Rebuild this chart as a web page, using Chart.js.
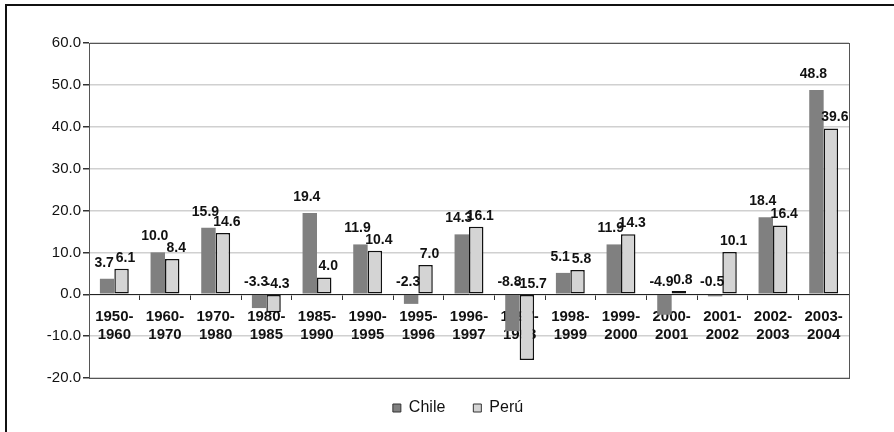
<!DOCTYPE html>
<html>
<head>
<meta charset="utf-8">
<script src="https://cdn.jsdelivr.net/npm/chart.js@4/dist/chart.umd.min.js"></script>
<style>
    html, body { margin: 0; padding: 0; background: #fff; }
    #wrap { position: relative; width: 894px; height: 432px; overflow: hidden; }
    #frame { position: absolute; left: 5px; top: 4px; width: 1000px; height: 1000px;
             border-left: 2px solid #111; border-top: 2px solid #111; }
    #chartBox { position: absolute; left: 0; top: 0; width: 894px; height: 432px; }
</style>
</head>
<body>
<div id="wrap">
    <div id="frame"></div>
    <div id="chartBox"><canvas id="growthChart"></canvas></div>
</div>
<script>
// periods on the x axis (two-line labels)
var periods = [
    ['1950-', '1960'], ['1960-', '1970'], ['1970-', '1980'], ['1980-', '1985'],
    ['1985-', '1990'], ['1990-', '1995'], ['1995-', '1996'], ['1996-', '1997'],
    ['1997-', '1998'], ['1998-', '1999'], ['1999-', '2000'], ['2000-', '2001'],
    ['2001-', '2002'], ['2002-', '2003'], ['2003-', '2004']
];
var chileValues = [3.7, 10.0, 15.9, -3.3, 19.4, 11.9, -2.3, 14.3, -8.8, 5.1, 11.9, -4.9, -0.5, 18.4, 48.8];
var peruValues = [6.1, 8.4, 14.6, -4.3, 4.0, 10.4, 7.0, 16.1, -15.7, 5.8, 14.3, 0.8, 10.1, 16.4, 39.6];
var yMin = -20;
var yMax = 60;
var yStep = 10;

Chart.defaults.font.family = '"Liberation Sans", Arial, sans-serif';
Chart.defaults.color = '#111';

// value labels above each bar (negative ones sit above the zero line)
var valueLabels = {
    id: 'valueLabels',
    afterDatasetsDraw: function(chart) {
        var ctx = chart.ctx;
        var zero = chart.scales.y.getPixelForValue(0);
        ctx.save();
        ctx.font = 'bold 14px "Liberation Sans", Arial, sans-serif';
        ctx.fillStyle = '#111';
        ctx.textAlign = 'center';
        ctx.textBaseline = 'middle';
        chart.data.datasets.forEach(function(ds, i) {
            var meta = chart.getDatasetMeta(i);
            meta.data.forEach(function(bar, j) {
                var v = ds.data[j];
                var shift = i === 0 ? -3 : 4;
                var lift;
                if (v >= 0) lift = i === 0 ? 16 : 11;
                else lift = i === 0 ? 12 : 10;
                var top = v >= 0 ? bar.y : zero;
                ctx.fillText(v.toFixed(1), bar.x + shift, top - lift);
            });
        });
        ctx.restore();
    }
};

// dark frame round the plot area
var plotFrame = {
    id: 'plotFrame',
    afterDraw: function(chart) {
        var a = chart.chartArea;
        var ctx = chart.ctx;
        ctx.save();
        ctx.strokeStyle = '#555';
        ctx.lineWidth = 1;
        ctx.strokeRect(Math.round(a.left) + 0.5, Math.round(a.top) + 0.5,
            Math.round(a.right - a.left), Math.round(a.bottom - a.top));
        ctx.restore();
    }
};

// legend sits a little left of the plot centre and a bit higher
var legendNudge = {
    id: 'legendNudge',
    afterLayout: function(chart) {
        chart.legend.left -= 22;
        chart.legend.top -= 6;
    }
};

var ctx = document.getElementById('growthChart').getContext('2d');
var growthChart = new Chart(ctx, {
    type: 'bar',
    data: {
        labels: periods,
        datasets: [{
            label: 'Chile',
            data: chileValues,
            backgroundColor: '#808080',
            borderWidth: 0
        }, {
            label: 'Perú',
            data: peruValues,
            backgroundColor: '#d4d4d4',
            borderColor: '#111',
            borderWidth: 1.5,
            borderSkipped: false
        }]
    },
    options: {
        responsive: true,
        maintainAspectRatio: false,
        animation: false,
        layout: {
            padding: { left: 0, top: 43, right: 45, bottom: 0 }
        },
        datasets: {
            bar: { categoryPercentage: 0.57, barPercentage: 1.0 }
        },
        scales: {
            x: {
                position: { y: 0 },
                grid: {
                    drawOnChartArea: false,
                    tickLength: 5,
                    tickColor: '#333',
                    offset: true
                },
                border: { color: '#222', width: 1 },
                ticks: {
                    font: { size: 15, weight: 'bold' },
                    color: '#111',
                    padding: 9,
                    maxRotation: 0,
                    autoSkip: false
                },
                afterFit: function(scale) { scale.height = 0; }
            },
            y: {
                min: yMin,
                max: yMax,
                grid: {
                    color: '#d0d0d0',
                    lineWidth: 1.5,
                    tickColor: '#333',
                    tickLength: 6
                },
                border: { color: '#444', width: 1 },
                ticks: {
                    stepSize: yStep,
                    font: { size: 15 },
                    color: '#111',
                    padding: 2,
                    callback: function(v) { return v.toFixed(1); }
                },
                afterFit: function(scale) { scale.width = 89; }
            }
        },
        plugins: {
            legend: {
                position: 'bottom',
                fullSize: false,
                labels: {
                    boxWidth: 8,
                    boxHeight: 8,
                    padding: 28,
                    color: '#111',
                    font: { size: 16 },
                    generateLabels: function(chart) {
                        var items = Chart.defaults.plugins.legend.labels.generateLabels(chart);
                        items.forEach(function(it) {
                            it.strokeStyle = '#333';
                            it.lineWidth = 1;
                        });
                        return items;
                    }
                }
            },
            tooltip: { enabled: false }
        }
    },
    plugins: [valueLabels, plotFrame, legendNudge]
});
</script>
</body>
</html>
